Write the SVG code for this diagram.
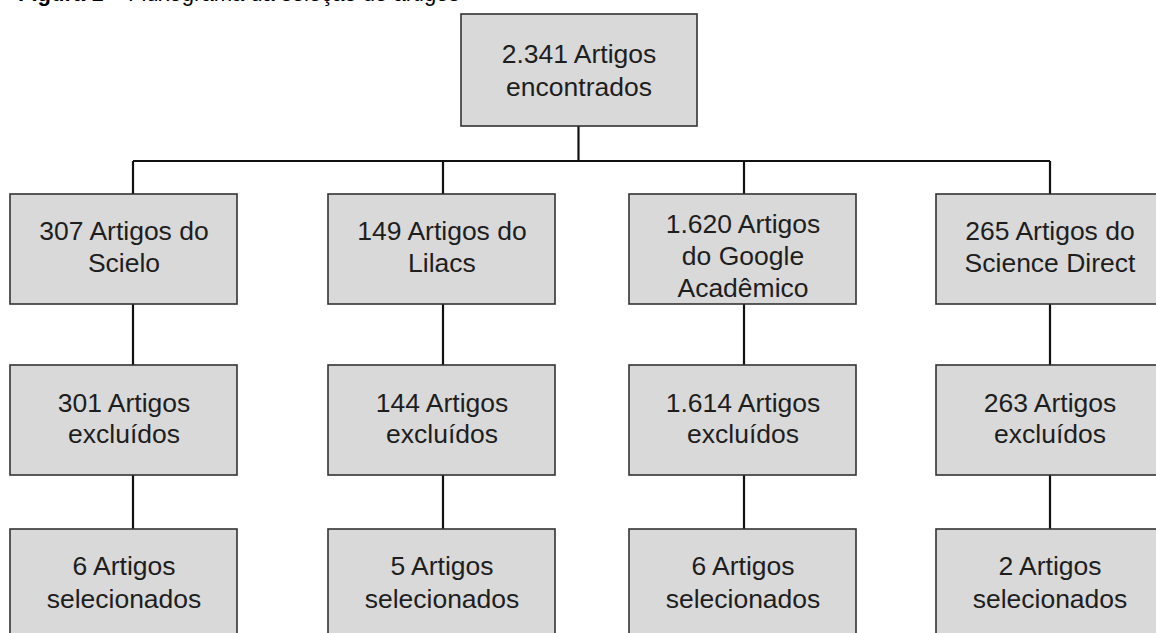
<svg xmlns="http://www.w3.org/2000/svg" width="1156" height="633" viewBox="0 0 1156 633">
<style>
.box{fill:#d9d9d9;stroke:#333;stroke-width:1.6}
.t{font-family:"Liberation Sans",Arial,sans-serif;font-size:26.5px;fill:#1e1e1e;text-anchor:middle}
.c{stroke:#111;stroke-width:2.2;fill:none}
.title{font-family:"Liberation Sans",Arial,sans-serif;font-size:22px;fill:#000}
</style>
<rect width="1156" height="633" fill="#fff"/>
<text class="title" x="18" y="0.5"><tspan font-weight="bold">Figura 1</tspan> – Fluxograma da seleção de artigos</text>
<g id="connectors">
<path class="c" d="M578.5 126V161M133 161H1050M133 161V194M443 161V194M744 161V194M1050 161V194"/>
<path class="c" d="M133 304V365M443 304V365M744 304V365M1050 304V365"/>
<path class="c" d="M133 475V529M443 475V529M744 475V529M1050 475V529"/>
</g>
<g id="n-total"><rect class="box" x="461" y="14" width="236" height="112"/><text class="t" x="579" y="63">2.341 Artigos</text><text class="t" x="579" y="96">encontrados</text></g>
<g id="n-scielo"><rect class="box" x="10" y="194" width="227" height="110"/><text class="t" x="124" y="240">307 Artigos do</text><text class="t" x="124" y="272">Scielo</text></g>
<g id="n-lilacs"><rect class="box" x="328" y="194" width="227" height="110"/><text class="t" x="442" y="240">149 Artigos do</text><text class="t" x="442" y="272">Lilacs</text></g>
<g id="n-google"><rect class="box" x="629" y="194" width="227" height="110"/><text class="t" x="743" y="233">1.620 Artigos</text><text class="t" x="743" y="265">do Google</text><text class="t" x="743" y="297">Acadêmico</text></g>
<g id="n-science"><rect class="box" x="936" y="194" width="228" height="110"/><text class="t" x="1050" y="240">265 Artigos do</text><text class="t" x="1050" y="272">Science Direct</text></g>
<g id="n-exc-scielo"><rect class="box" x="10" y="365" width="227" height="110"/><text class="t" x="124" y="412">301 Artigos</text><text class="t" x="124" y="443">excluídos</text></g>
<g id="n-exc-lilacs"><rect class="box" x="328" y="365" width="227" height="110"/><text class="t" x="442" y="412">144 Artigos</text><text class="t" x="442" y="443">excluídos</text></g>
<g id="n-exc-google"><rect class="box" x="629" y="365" width="227" height="110"/><text class="t" x="743" y="412">1.614 Artigos</text><text class="t" x="743" y="443">excluídos</text></g>
<g id="n-exc-science"><rect class="box" x="936" y="365" width="228" height="110"/><text class="t" x="1050" y="412">263 Artigos</text><text class="t" x="1050" y="443">excluídos</text></g>
<g id="n-sel-scielo"><rect class="box" x="10" y="529" width="227" height="110"/><text class="t" x="124" y="575">6 Artigos</text><text class="t" x="124" y="608">selecionados</text></g>
<g id="n-sel-lilacs"><rect class="box" x="328" y="529" width="227" height="110"/><text class="t" x="442" y="575">5 Artigos</text><text class="t" x="442" y="608">selecionados</text></g>
<g id="n-sel-google"><rect class="box" x="629" y="529" width="227" height="110"/><text class="t" x="743" y="575">6 Artigos</text><text class="t" x="743" y="608">selecionados</text></g>
<g id="n-sel-science"><rect class="box" x="936" y="529" width="228" height="110"/><text class="t" x="1050" y="575">2 Artigos</text><text class="t" x="1050" y="608">selecionados</text></g>
</svg>
